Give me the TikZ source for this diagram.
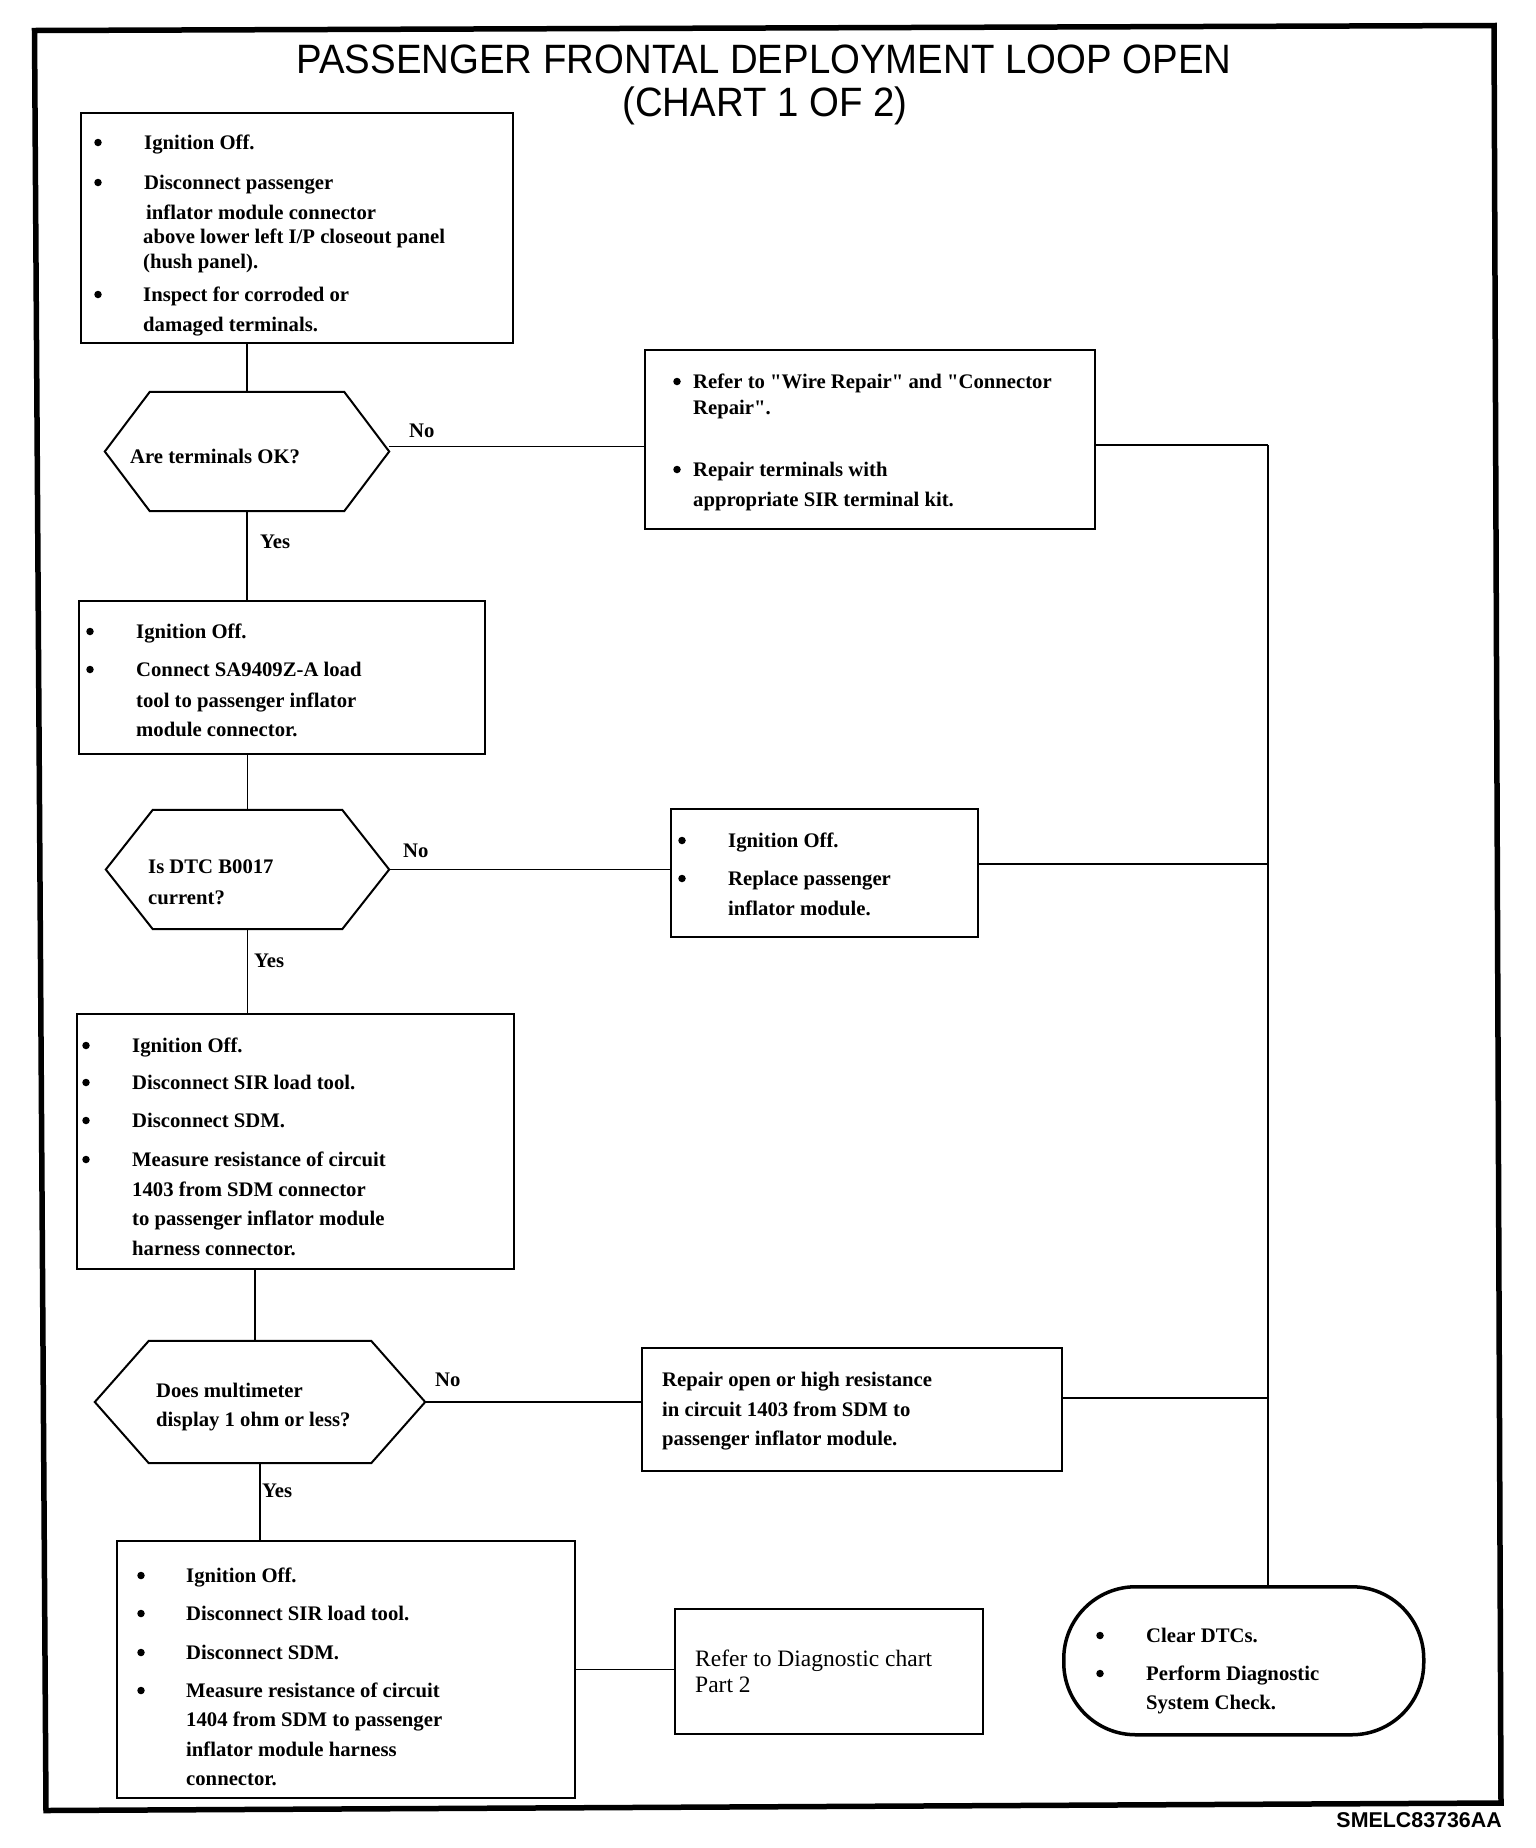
\documentclass[tikz,border=0pt]{standalone}
\usepackage{fontspec}
\setmainfont{Liberation Serif}
\newfontfamily\arialf{Liberation Sans}
\tikzset{
  box/.style={draw, line width=2pt, anchor=north west, inner sep=0pt},
  hexnode/.style={inner sep=0pt},
  txt/.style={font=\fontsize{20.7}{25}\selectfont\bfseries, anchor=base west, inner sep=0pt},
  txr/.style={font=\fontsize{23.5}{28}\selectfont, anchor=base west, inner sep=0pt},
  bdot/.style={circle, fill=black, draw=none, inner sep=0pt, minimum size=7.5pt},
  conn/.style={line width=1.5pt},
  hexline/.style={line width=2pt},
  ttl/.style={font=\arialf\fontsize{41}{48}\selectfont, anchor=base, inner sep=0pt},
}
\newcommand\bxnode[5]{\node[box, minimum width=#4pt, minimum height=#5pt] (#1) at (#2,#3) {};}
\newcommand\hexnd[6]{\node[hexnode, minimum width=#4pt, minimum height=#5pt] (#1) at (#2,#3) {};
  \draw[hexline] (#1.west) -- ([xshift=#6pt]#1.north west) -- ([xshift=-#6pt]#1.north east) -- (#1.east) -- ([xshift=-#6pt]#1.south east) -- ([xshift=#6pt]#1.south west) -- cycle;}
\newcommand\bdotn[3]{\node[bdot] (#1) at ({#2},{#3-6.5}) {};}
\newcommand\qq{\textquotedbl}
\begin{document}
\begin{tikzpicture}[x=1pt,y=-1pt]
\useasboundingbox (0,0) rectangle (1536,1848);
% outer frame
\draw[line width=5.5pt] (34.5,30.5) -- (1494,25.5) -- (1501,1803) -- (46,1810.5) -- cycle;
% title
\node[ttl] (title1) at (764,73) {\scalebox{0.936}[1]{PASSENGER FRONTAL DEPLOYMENT LOOP OPEN}};
\node[ttl] (title2) at (765,116) {\scalebox{0.936}[1]{(CHART 1 OF 2)}};

% boxes
\bxnode{b1}{80}{112}{432}{230}
\bxnode{b2}{644}{349}{450}{179}
\bxnode{b3}{78}{600}{406}{153}
\bxnode{b4}{670}{808}{307}{128}
\bxnode{b5}{76}{1013}{437}{255}
\bxnode{b6}{641}{1347}{420}{123}
\bxnode{b7}{116}{1540}{458}{257}
\bxnode{b8}{674}{1608}{308}{125}
\node[draw, line width=3.5pt, rounded corners=72pt, anchor=north west, inner sep=0pt,
      minimum width=360pt, minimum height=148pt] (cap) at (1062,1585) {};

% hexagons
\hexnd{h1}{247}{451.5}{284}{119}{45}
\hexnd{h2}{247.5}{869.5}{283}{119}{47}
\hexnd{h3}{260}{1402}{330}{122}{54}

% box 1 text
\bdotn{b1u1}{98}{149}
\bdotn{b1u2}{98}{189}
\bdotn{b1u3}{98}{301}
\node[txt] (b1l1) at (144,149) {Ignition Off.};
\node[txt] (b1l2) at (144,189) {Disconnect passenger};
\node[txt] (b1l3) at (146,219) {inflator module connector};
\node[txt] (b1l4) at (143,243) {above lower left I/P closeout panel};
\node[txt] (b1l5) at (143,268) {(hush panel).};
\node[txt] (b1l6) at (143,301) {Inspect for corroded or};
\node[txt] (b1l7) at (143,331) {damaged terminals.};

% box 2 text
\bdotn{b2u1}{677}{388}
\bdotn{b2u2}{677}{476}
\node[txt] (b2l1) at (693,388) {Refer to \qq Wire Repair\qq{} and \qq Connector};
\node[txt] (b2l2) at (693,414) {Repair\qq.};
\node[txt] (b2l3) at (693,476) {Repair terminals with};
\node[txt] (b2l4) at (693,506) {appropriate SIR terminal kit.};

% box 3 text
\bdotn{b3u1}{90}{638}
\bdotn{b3u2}{90}{676}
\node[txt] (b3l1) at (136,638) {Ignition Off.};
\node[txt] (b3l2) at (136,676) {Connect SA9409Z-A load};
\node[txt] (b3l3) at (136,707) {tool to passenger inflator};
\node[txt] (b3l4) at (136,736) {module connector.};

% box 4 text
\bdotn{b4u1}{682}{847}
\bdotn{b4u2}{682}{885}
\node[txt] (b4l1) at (728,847) {Ignition Off.};
\node[txt] (b4l2) at (728,885) {Replace passenger};
\node[txt] (b4l3) at (728,915) {inflator module.};

% box 5 text
\bdotn{b5u1}{86}{1052}
\bdotn{b5u2}{86}{1089}
\bdotn{b5u3}{86}{1127}
\bdotn{b5u4}{86}{1166}
\node[txt] (b5l1) at (132,1052) {Ignition Off.};
\node[txt] (b5l2) at (132,1089) {Disconnect SIR load tool.};
\node[txt] (b5l3) at (132,1127) {Disconnect SDM.};
\node[txt] (b5l4) at (132,1166) {Measure resistance of circuit};
\node[txt] (b5l5) at (132,1196) {1403 from SDM connector};
\node[txt] (b5l6) at (132,1225) {to passenger inflator module};
\node[txt] (b5l7) at (132,1255) {harness connector.};

% box 6 text
\node[txt] (b6l1) at (662,1386) {Repair open or high resistance};
\node[txt] (b6l2) at (662,1416) {in circuit 1403 from SDM to};
\node[txt] (b6l3) at (662,1445) {passenger inflator module.};

% box 7 text
\bdotn{b7u1}{141}{1582}
\bdotn{b7u2}{141}{1620}
\bdotn{b7u3}{141}{1659}
\bdotn{b7u4}{141}{1697}
\node[txt] (b7l1) at (186,1582) {Ignition Off.};
\node[txt] (b7l2) at (186,1620) {Disconnect SIR load tool.};
\node[txt] (b7l3) at (186,1659) {Disconnect SDM.};
\node[txt] (b7l4) at (186,1697) {Measure resistance of circuit};
\node[txt] (b7l5) at (186,1726) {1404 from SDM to passenger};
\node[txt] (b7l6) at (186,1756) {inflator module harness};
\node[txt] (b7l7) at (186,1785) {connector.};

% box 8 text
\node[txr] (b8l1) at (695,1666) {Refer to Diagnostic chart};
\node[txr] (b8l2) at (695,1692) {Part 2};

% cap text
\bdotn{cpu1}{1100}{1642}
\bdotn{cpu2}{1100}{1680}
\node[txt] (cpl1) at (1146,1642) {Clear DTCs.};
\node[txt] (cpl2) at (1146,1680) {Perform Diagnostic};
\node[txt] (cpl3) at (1146,1709) {System Check.};

% hexagon text
\node[txt] (h1t) at (130,463) {Are terminals OK?};
\node[txt] (h2t1) at (148,873) {Is DTC B0017};
\node[txt] (h2t2) at (148,904) {current?};
\node[txt] (h3t1) at (156,1397) {Does multimeter};
\node[txt] (h3t2) at (156,1426) {display 1 ohm or less?};

% yes / no labels
\node[txt] (no1) at (409,437) {No};
\node[txt] (no2) at (403,857) {No};
\node[txt] (no3) at (435,1386) {No};
\node[txt] (yes1) at (260,548) {Yes};
\node[txt] (yes2) at (254,967) {Yes};
\node[txt] (yes3) at (262,1497) {Yes};

% figure code
\node[font=\arialf\bfseries\fontsize{21.4}{24}\selectfont, anchor=base east, inner sep=0pt] (code) at (1502,1827) {SMELC83736AA};

% rail coordinates
\coordinate (r1) at (1268,445);
\coordinate (r2) at (1268,864);
\coordinate (r3) at (1268,1398);

% connectors
\draw[conn] (h1.north |- b1.south) -- (h1.north);
\draw[conn] (h1.south) -- (h1.south |- b3.north);
\draw[conn] ([yshift=5pt]h1.east) -- ([yshift=5pt]h1.east -| b2.west);
\draw[conn] (h2.north |- b3.south) -- (h2.north);
\draw[conn] (h2.south) -- (h2.south |- b5.north);
\draw[conn] (h2.east) -- (h2.east -| b4.west);
\draw[conn] ([xshift=-5pt]h3.north |- b5.south) -- ([xshift=-5pt]h3.north);
\draw[conn] (h3.south) -- (h3.south |- b7.north);
\draw[conn] (h3.east) -- (h3.east -| b6.west);
\draw[conn] (b7.east) -- (b7.east -| b8.west);
\draw[conn] (r1 -| b2.east) -- (r1);
\draw[conn] (r2 -| b4.east) -- (r2);
\draw[conn] (r3 -| b6.east) -- (r3);
\draw[conn] (r1) -- (r1 |- cap.north);
\end{tikzpicture}
\end{document}
